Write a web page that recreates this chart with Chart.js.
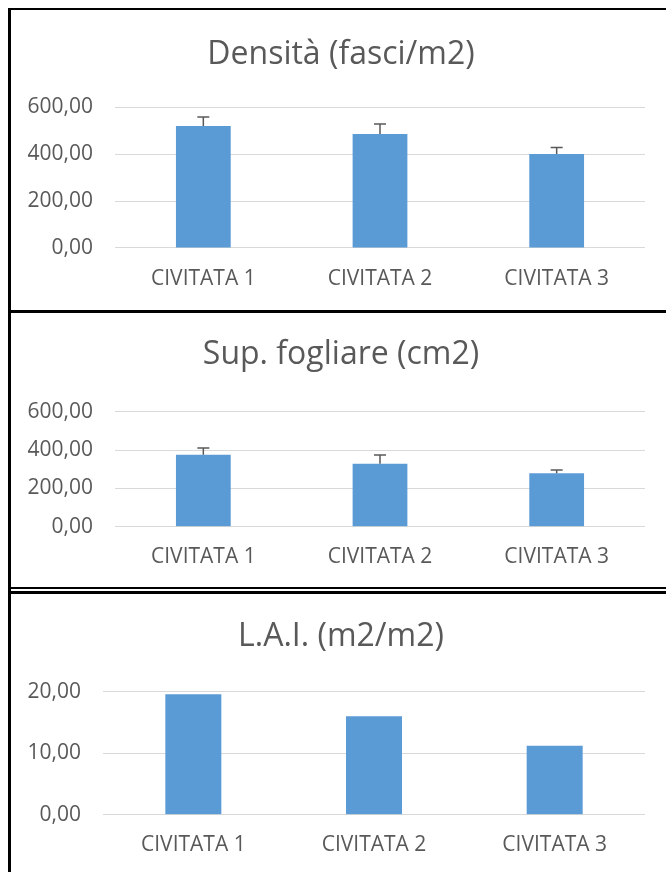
<!DOCTYPE html>
<html>
<head>
<meta charset="utf-8">
<script src="https://cdn.jsdelivr.net/npm/chart.js@4"></script>
<style>
    body { margin: 0; background: #ffffff; width: 666px; height: 872px; overflow: hidden; position: relative; }
    .line { position: absolute; background: #000000; }
    canvas { position: absolute; }
</style>
</head>
<body>

<!-- borders of the three boxes -->
<div class="line" style="left:8px; top:8px; width:3px; height:864px;"></div>
<div class="line" style="left:8px; top:8px; width:658px; height:2px;"></div>
<div class="line" style="left:8px; top:310px; width:658px; height:3px;"></div>
<div class="line" style="left:8px; top:587px; width:658px; height:2px;"></div>
<div class="line" style="left:8px; top:591px; width:658px; height:3px;"></div>

<canvas id="chart1" width="660" height="300" style="left:11px; top:10px;"></canvas>
<canvas id="chart2" width="660" height="274" style="left:11px; top:313px;"></canvas>
<canvas id="chart3" width="660" height="278" style="left:11px; top:594px;"></canvas>

<script>
// JavaScript file

// Data
const categories = ["CIVITATA 1", "CIVITATA 2", "CIVITATA 3"];

const densita = [519, 485, 400];
const densitaErr = [38, 43, 28];
const densitaTicks = [0, 200, 400, 600];

const supFogliare = [376, 329, 279];
const supFogliareErr = [35, 45, 17];
const supFogliareTicks = [0, 200, 400, 600];

const lai = [19.6, 16.0, 11.2];
const laiTicks = [0, 10, 20];

const FONT = "'Open Sans', 'DejaVu Sans', sans-serif";
const GREY = "#595959";

// Plugin to draw the (positive) error bars
function errorBars(errors) {
    return {
        id: "errorBars",
        afterDatasetsDraw(chart) {
            if (!errors) return;
            const ctx = chart.ctx;
            const meta = chart.getDatasetMeta(0);
            const y = chart.scales.y;
            ctx.save();
            ctx.strokeStyle = GREY;
            ctx.lineWidth = 1.5;
            meta.data.forEach((bar, i) => {
                const v = chart.data.datasets[0].data[i];
                const top = y.getPixelForValue(v + errors[i]);
                ctx.beginPath();
                ctx.moveTo(bar.x, bar.y);
                ctx.lineTo(bar.x, top);
                ctx.moveTo(bar.x - 6, top);
                ctx.lineTo(bar.x + 6, top);
                ctx.stroke();
            });
            ctx.restore();
        }
    };
}

// Function to create one chart
// lay: title centre, plot top, plot bottom, label centre, plot left (canvas px)
function createChart(id, title, values, errors, ticks, lay) {
    const canvas = document.getElementById(id);
    const H = canvas.height;
    const titleSize = 32;
    const titleLH = titleSize * 1.2;
    const tickSize = 21;
    const tickLH = tickSize * 1.2;
    const xPad = lay.labelC - lay.bottom - tickLH / 2;

    return new Chart(canvas, {
        type: "bar",
        data: {
            labels: categories,
            datasets: [
                {
                    data: values,
                    backgroundColor: "#5b9bd5",
                    categoryPercentage: 1,
                    barPercentage: 0.31,
                },
            ],
        },
        options: {
            responsive: false,
            animation: false,
            layout: {
                padding: { left: 0, right: 0, top: 0, bottom: H - (lay.bottom + xPad + tickLH) },
            },
            plugins: {
                legend: { display: false },
                tooltip: { enabled: false },
                title: {
                    display: true,
                    text: title,
                    color: GREY,
                    font: { family: FONT, size: titleSize, weight: "normal", lineHeight: 1.2 },
                    padding: {
                        top: lay.titleC - titleLH / 2,
                        bottom: lay.top - lay.titleC - titleLH / 2,
                    },
                },
            },
            scales: {
                x: {
                    afterFit: (scale) => { scale.height = xPad + tickLH; },
                    grid: { display: false, drawTicks: false },
                    border: { display: false },
                    ticks: {
                        color: GREY,
                        padding: xPad,
                        font: { family: FONT, size: tickSize, lineHeight: 1.2 },
                    },
                },
                y: {
                    min: ticks[0],
                    max: ticks[ticks.length - 1],
                    afterBuildTicks: (scale) => {
                        scale.ticks = ticks.map((v) => ({ value: v }));
                    },
                    afterFit: (scale) => { scale.width = lay.left; },
                    grid: { color: "#d9d9d9", lineWidth: 1, drawTicks: false },
                    border: { display: false },
                    ticks: {
                        color: GREY,
                        padding: 22,
                        font: { family: FONT, size: tickSize, lineHeight: 1.2 },
                        callback: (v) => v.toFixed(2).replace(".", ","),
                    },
                },
                // empty right axis, only keeps the plot away from the right edge
                yRight: {
                    position: "right",
                    afterFit: (scale) => { scale.width = 26; },
                    grid: { display: false, drawTicks: false },
                    border: { display: false },
                    ticks: { display: false },
                },
            },
        },
        plugins: [errorBars(errors)],
    });
}

createChart("chart1", "Densità (fasci/m2)", densita, densitaErr, densitaTicks,
    { titleC: 45, top: 97, bottom: 238, labelC: 269, left: 104 });
createChart("chart2", "Sup. fogliare (cm2)", supFogliare, supFogliareErr, supFogliareTicks,
    { titleC: 42, top: 98.7, bottom: 213.7, labelC: 243.7, left: 104 });
createChart("chart3", "L.A.I. (m2/m2)", lai, null, laiTicks,
    { titleC: 43, top: 97.7, bottom: 220.7, labelC: 251, left: 92 });
</script>
</body>
</html>
